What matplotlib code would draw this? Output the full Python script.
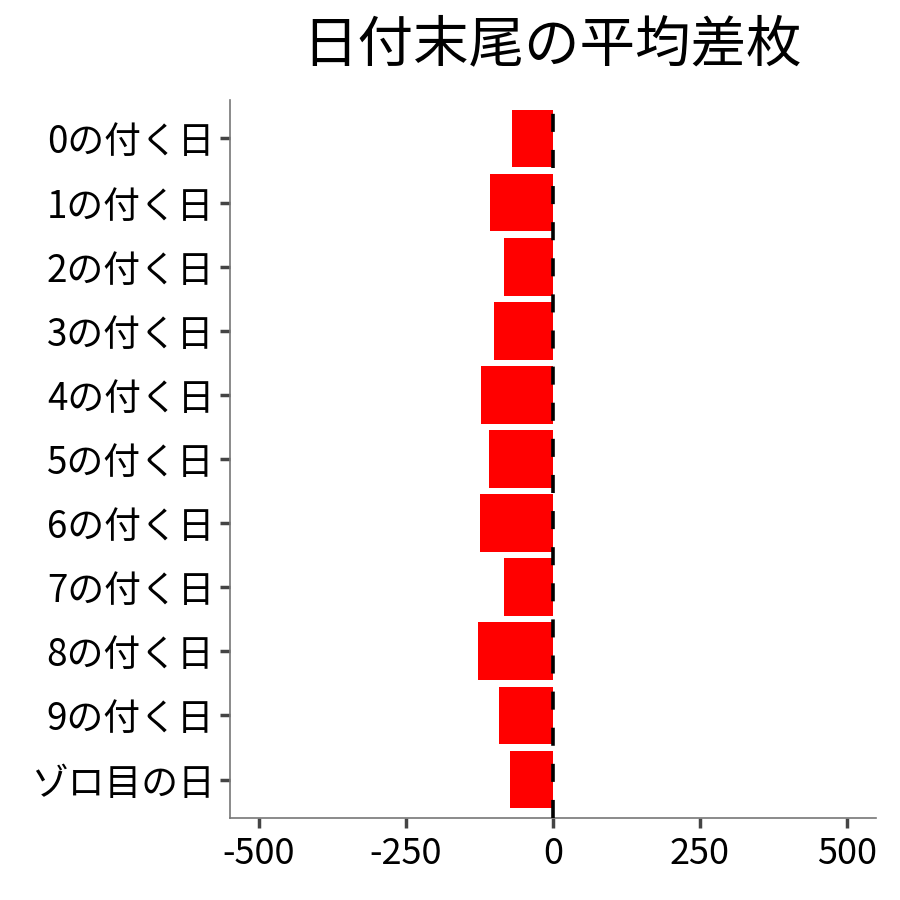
import matplotlib
matplotlib.use("Agg")
import matplotlib.pyplot as plt

plt.rcParams['font.family'] = ['Noto Sans CJK JP', 'DejaVu Sans']

# data
labels = ['0の付く日', '1の付く日', '2の付く日', '3の付く日', '4の付く日',
          '5の付く日', '6の付く日', '7の付く日', '8の付く日', '9の付く日', 'ゾロ目の日']
values = [-69, -107, -83, -100, -122, -108, -124, -83, -127, -91, -73]
xticks = [-500, -250, 0, 250, 500]
xticklabels = ['-500', '-250', '0', '250', '500']

fig = plt.figure(figsize=(9, 9), dpi=100)
ax = fig.add_axes([229.6/900, 82/900, 646.8/900, 718/900])

ypos = list(range(len(labels)))
ax.barh(ypos, values, height=0.9, color='#FF0000', zorder=2)
ax.axvline(0, color='black', lw=2.6, dashes=(5, 5), zorder=3)

ax.set_xlim(-550, 550)
ax.set_ylim(len(labels) - 0.4, -0.6)
ax.set_yticks(ypos)
ax.set_yticklabels(labels, fontsize=26.5)
ax.set_xticks(xticks)
ax.set_xticklabels(xticklabels, fontsize=26)

for s in ['top', 'right']:
    ax.spines[s].set_visible(False)
for s in ['left', 'bottom']:
    ax.spines[s].set_color('#777777')
    ax.spines[s].set_linewidth(1.2)
ax.tick_params(axis='both', length=7, width=2.5, color='#444444', labelcolor='black')
ax.tick_params(axis='x', pad=6)
ax.tick_params(axis='y', pad=4)

fig.text(552/900, 1 - 45/900, '日付末尾の平均差枚', fontsize=40,
         ha='center', va='center')

fig.savefig('out.png', dpi=100)
